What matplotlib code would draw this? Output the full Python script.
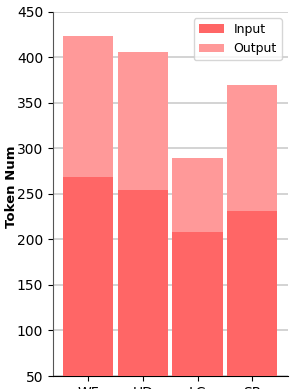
import numpy as np
import matplotlib.pyplot as plt

tasks = ['WF', 'UD', 'LC', 'SR']
input_tokens = np.array([269, 254, 208, 231])
total_tokens = np.array([424, 406, 290, 370])
output_tokens = total_tokens - input_tokens

fig = plt.figure(figsize=(2.94, 3.89), dpi=100)
ax = fig.add_axes([0.180, 0.0334, 0.800, 0.936])

x = np.arange(len(tasks))
ax.bar(x, input_tokens, width=0.92, color='#ff6666', label='Input', zorder=3)
ax.bar(x, output_tokens, width=0.92, bottom=input_tokens, color='#ff9999',
       label='Output', zorder=3)

ax.set_ylim(50, 450)
ax.set_xlim(-0.65, 3.66)
ax.set_yticks(np.arange(50, 451, 50))
ax.set_xticks(x)
ax.set_xticklabels(tasks)
ax.tick_params(labelsize=10)
ax.set_ylabel('Token Num', fontsize=9.5, fontweight='bold')
ax.yaxis.set_label_coords(-0.148, 0.52)
ax.yaxis.grid(True, color='#cccccc', linewidth=1.2, zorder=0)

ax.spines['top'].set_visible(False)
ax.spines['right'].set_visible(False)
ax.spines['left'].set_color('#555555')
ax.spines['bottom'].set_color('black')

ax.legend(loc='upper right', fontsize=9)

fig.savefig('out.png', dpi=100)
